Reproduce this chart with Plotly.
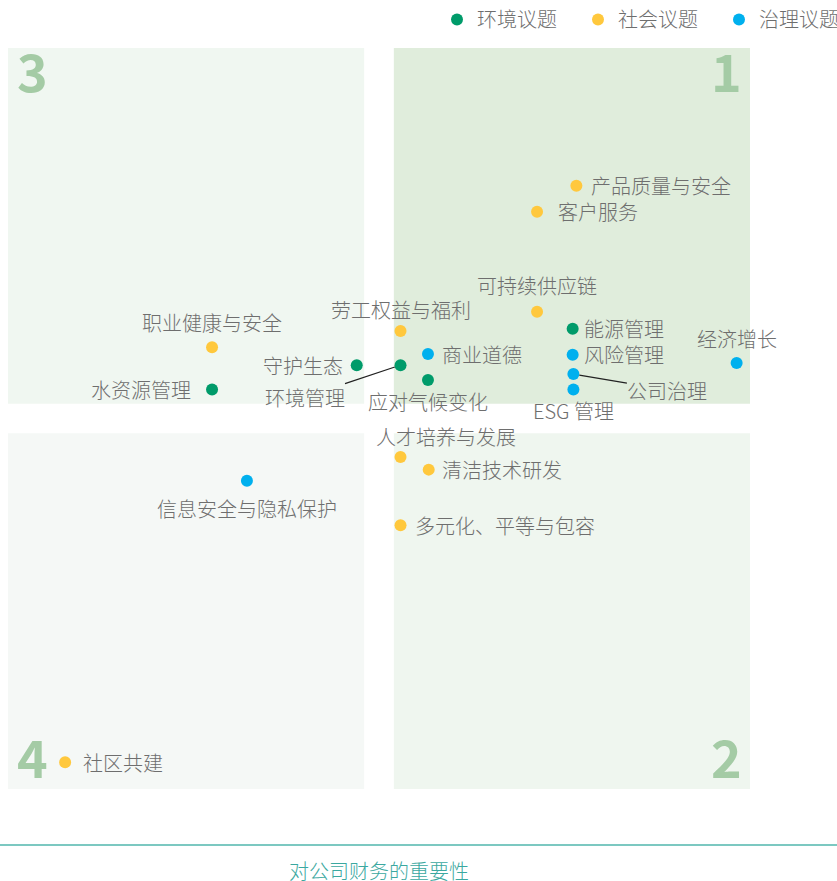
import plotly.graph_objects as go

# ---------------- data ----------------
groups = ["环境议题", "社会议题", "治理议题"]
group_colors = ["#009B6A", "#FFC83D", "#00B0EE"]

names = ["产品质量与安全", "客户服务", "可持续供应链", "能源管理", "风险管理", "公司治理",
         "ESG 管理", "经济增长", "劳工权益与福利", "商业道德", "环境管理", "应对气候变化",
         "守护生态", "职业健康与安全", "水资源管理", "人才培养与发展", "清洁技术研发",
         "多元化、平等与包容", "信息安全与隐私保护", "社区共建"]
group_of = ["社会议题", "社会议题", "社会议题", "环境议题", "治理议题", "治理议题",
            "治理议题", "治理议题", "社会议题", "治理议题", "环境议题", "环境议题",
            "环境议题", "社会议题", "环境议题", "社会议题", "社会议题",
            "社会议题", "治理议题", "社会议题"]
# importance to company finance (x) and importance to stakeholders (y), 0-10 scale
x_vals = [7.66, 7.13, 7.13, 7.61, 7.61, 7.62, 7.62, 9.82, 5.29, 5.66, 5.29, 5.66,
          4.70, 2.75, 2.75, 5.29, 5.67, 5.29, 3.22, 0.77]
y_vals = [8.14, 7.79, 6.44, 6.21, 5.86, 5.60, 5.39, 5.75, 6.18, 5.87, 5.72, 5.52,
          5.72, 5.96, 5.39, 4.48, 4.31, 3.56, 4.16, 0.36]

x_title = "对公司财务的重要性"
quadrant_numbers = ["1", "2", "3", "4"]

# ---------------- layout / style ----------------
W, H = 837, 881
PX_X, PX_Y = 74.2, 74.1          # pixels per unit
LEFT, TOP = 8, 48                # pixel position of grid origin (x=0) and top (y=10)
SPLIT_LO, SPLIT_HI, GRID_MAX = 4.8, 5.2, 10.0
x_range = [-LEFT / PX_X, (W - LEFT) / PX_X]
bottom_px = TOP + GRID_MAX * PX_Y
y_range = [-(H - bottom_px) / PX_Y, GRID_MAX + TOP / PX_Y]

FONT = "Noto Sans CJK SC, Noto Sans, sans-serif"
TXT = "#6e6e6e"
FS = 20
FW = 300

# label placement: (mode, dx, dy) in pixels
label_style = {
    "产品质量与安全": ("right", 14, 0),
    "客户服务": ("right", 20, 0),
    "可持续供应链": ("top", 0, 26),
    "能源管理": ("right", 10, 0),
    "风险管理": ("right", 10, 0),
    "公司治理": ("arrow", 94, 16),
    "ESG 管理": ("bottom", 0, -21),
    "经济增长": ("top", 0, 24),
    "劳工权益与福利": ("top", 0, 22),
    "商业道德": ("right", 13, 0),
    "环境管理": ("arrow", -96, 32),
    "应对气候变化": ("bottom", 0, -22),
    "守护生态": ("left", -13, 0),
    "职业健康与安全": ("top", 0, 25),
    "水资源管理": ("left", -20, 0),
    "人才培养与发展": ("top", 45, 21),
    "清洁技术研发": ("right", 12, 0),
    "多元化、平等与包容": ("right", 13, 0),
    "信息安全与隐私保护": ("bottom", 0, -28),
    "社区共建": ("right", 17, 0),
}

fig = go.Figure()

# quadrant backgrounds
quads = [
    (SPLIT_HI, GRID_MAX, SPLIT_HI, GRID_MAX, "#E0EDDC"),  # 1
    (SPLIT_HI, GRID_MAX, 0, SPLIT_LO, "#EFF6EF"),         # 2
    (0, SPLIT_LO, SPLIT_HI, GRID_MAX, "#F0F7F1"),         # 3
    (0, SPLIT_LO, 0, SPLIT_LO, "#F5F8F6"),                # 4
]
for x0, x1, y0, y1, c in quads:
    fig.add_shape(type="rect", x0=x0, x1=x1, y0=y0, y1=y1, xref="x", yref="y",
                  fillcolor=c, line_width=0, layer="below")

# quadrant numbers
NUM_COLOR = "#A4CBA5"
num_font = dict(family="Noto Sans CJK SC, Open Sans, sans-serif", size=52, color=NUM_COLOR, weight="bold")
num_pos = {
    "1": (GRID_MAX, GRID_MAX, "right", "top", -6, 18),
    "2": (GRID_MAX, 0, "right", "bottom", -6, -6),
    "3": (0, GRID_MAX, "left", "top", 7, 18),
    "4": (0, 0, "left", "bottom", 7, -6),
}
for n in quadrant_numbers:
    x, y, xa, ya, xs, ys = num_pos[n]
    fig.add_annotation(x=x, y=y, text=n, showarrow=False, xanchor=xa, yanchor=ya,
                       xshift=xs, yshift=ys, font=num_font)

# points per group
for g, c in zip(groups, group_colors):
    idx = [i for i, gg in enumerate(group_of) if gg == g]
    fig.add_trace(go.Scatter(
        x=[x_vals[i] for i in idx], y=[y_vals[i] for i in idx],
        mode="markers", name=g,
        marker=dict(color=c, size=12, line_width=0),
        hovertext=[names[i] for i in idx], hoverinfo="text",
    ))

# labels
lab_font = dict(family=FONT, size=FS, color=TXT, weight=FW)
for i, n in enumerate(names):
    mode, dx, dy = label_style[n]
    common = dict(x=x_vals[i], y=y_vals[i], text=n, font=lab_font, borderpad=0)
    if mode == "right":
        fig.add_annotation(**common, showarrow=False, xanchor="left", yanchor="middle",
                           xshift=dx, yshift=dy)
    elif mode == "left":
        fig.add_annotation(**common, showarrow=False, xanchor="right", yanchor="middle",
                           xshift=dx, yshift=dy)
    elif mode in ("top", "bottom"):
        fig.add_annotation(**common, showarrow=False, xanchor="center", yanchor="middle",
                           xshift=dx, yshift=dy)
    else:
        fig.add_annotation(**common, showarrow=True, ax=dx, ay=dy, arrowhead=0,
                           arrowwidth=1.2, arrowcolor="#222222", standoff=6)

# x axis line and title
axis_y_px = 845
fig.add_shape(type="line", xref="paper", yref="paper", x0=0, x1=1,
              y0=1 - axis_y_px / H, y1=1 - axis_y_px / H,
              line=dict(color="#7CC8C1", width=2))
fig.add_annotation(x=379 / W, xref="paper", y=1 - 870 / H, yref="paper", text=x_title,
                   showarrow=False, xanchor="center", yanchor="middle", borderpad=0,
                   font=dict(family=FONT, size=FS, color="#3BA8A0", weight=FW))

fig.update_layout(
    width=W, height=H, margin=dict(l=0, r=0, t=0, b=0, autoexpand=False),
    paper_bgcolor="white", plot_bgcolor="white",
    xaxis=dict(range=x_range, visible=False, fixedrange=True),
    yaxis=dict(range=y_range, visible=False, fixedrange=True),
    showlegend=True,
    legend=dict(orientation="h", x=1.0 + 23 / W, xanchor="right", y=1.0, yanchor="top",
                entrywidth=96, entrywidthmode="pixels",
                font=dict(family=FONT, size=FS, color=TXT, weight=FW), itemsizing="constant",
                bgcolor="rgba(0,0,0,0)", tracegroupgap=0),
)

fig.write_html("out.html")
